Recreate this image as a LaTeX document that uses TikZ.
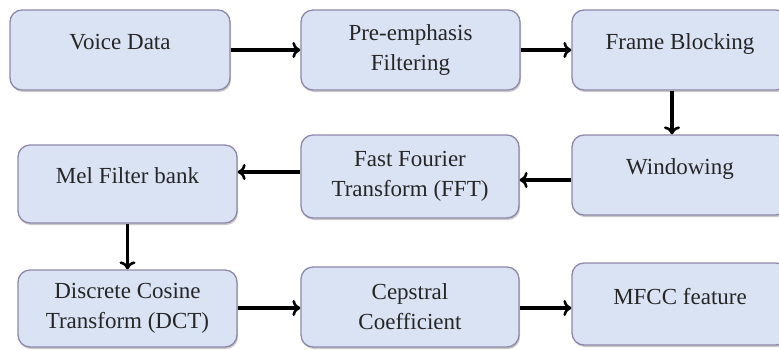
\documentclass[tikz,border=0pt]{standalone}
\usepackage{fontspec}
\setmainfont{Liberation Serif}
\newfontfamily\boxface{Liberation Serif}
\usetikzlibrary{arrows.meta,shadows}
\definecolor{boxfill}{HTML}{DAE3F3}
\definecolor{boxline}{HTML}{8E89AB}
\tikzset{
  stagebox/.style={draw=boxline, fill=boxfill, line width=1.3pt, rounded corners=12pt,
    inner sep=0pt, align=center, text=black!85,
    font=\boxface\fontsize{23}{30}\selectfont,
    drop shadow={opacity=0.35, shadow xshift=1pt, shadow yshift=-2pt, fill=black!60}},
  flow/.style={line width=3.2pt, -{To[length=8pt,width=16pt,line width=2.6pt]}}
}
\newcommand{\uptext}[1]{\raisebox{16pt}{#1}}
\begin{document}
\begin{tikzpicture}[x=1pt,y=-1pt]
\clip (0,0) rectangle (779,349);
\fill[white] (0,0) rectangle (779,349);
% row 1
\node[stagebox, minimum width=220pt, minimum height=80pt] (vd) at (120,50) {\uptext{Voice Data}};
\node[stagebox, minimum width=219pt, minimum height=80pt] (pe) at (410.5,50) {Pre-emphasis\\Filtering};
\node[stagebox, minimum width=216pt, minimum height=80pt] (fb) at (680,50) {\uptext{Frame Blocking}};
% row 2
\node[stagebox, minimum width=216pt, minimum height=80pt] (wi) at (680,175) {\uptext{Windowing}};
\node[stagebox, minimum width=218pt, minimum height=83pt] (fft) at (410,176.5) {Fast Fourier\\Transform (FFT)};
\node[stagebox, minimum width=219pt, minimum height=78pt] (mel) at (127.5,184) {\uptext{Mel Filter bank}};
% row 3
\node[stagebox, minimum width=219pt, minimum height=77pt] (dct) at (127.5,308.5) {Discrete Cosine\\Transform (DCT)};
\node[stagebox, minimum width=218pt, minimum height=80pt] (cc) at (410,307) {Cepstral\\Coefficient};
\node[stagebox, minimum width=216pt, minimum height=82pt] (mf) at (680,304) {\uptext{MFCC feature}};
% helper coordinates for connector heights/positions
\coordinate (ya) at (0,180);
\coordinate (yb) at (0,172);
\coordinate (yc) at (0,308);
\coordinate (xa) at (672,0);
% connectors
\draw[flow] (vd.east) -- (pe.west);
\draw[flow] (pe.east) -- (fb.west);
\draw[flow] (fb.south -| xa) -- (wi.north -| xa);
\draw[flow] (wi.west |- ya) -- (fft.east |- ya);
\draw[flow] (fft.west |- yb) -- (mel.east |- yb);
\draw[flow] (mel.south) -- (dct.north);
\draw[flow] (dct.east |- yc) -- (cc.west |- yc);
\draw[flow] (cc.east |- yc) -- (mf.west |- yc);
\end{tikzpicture}
\end{document}
